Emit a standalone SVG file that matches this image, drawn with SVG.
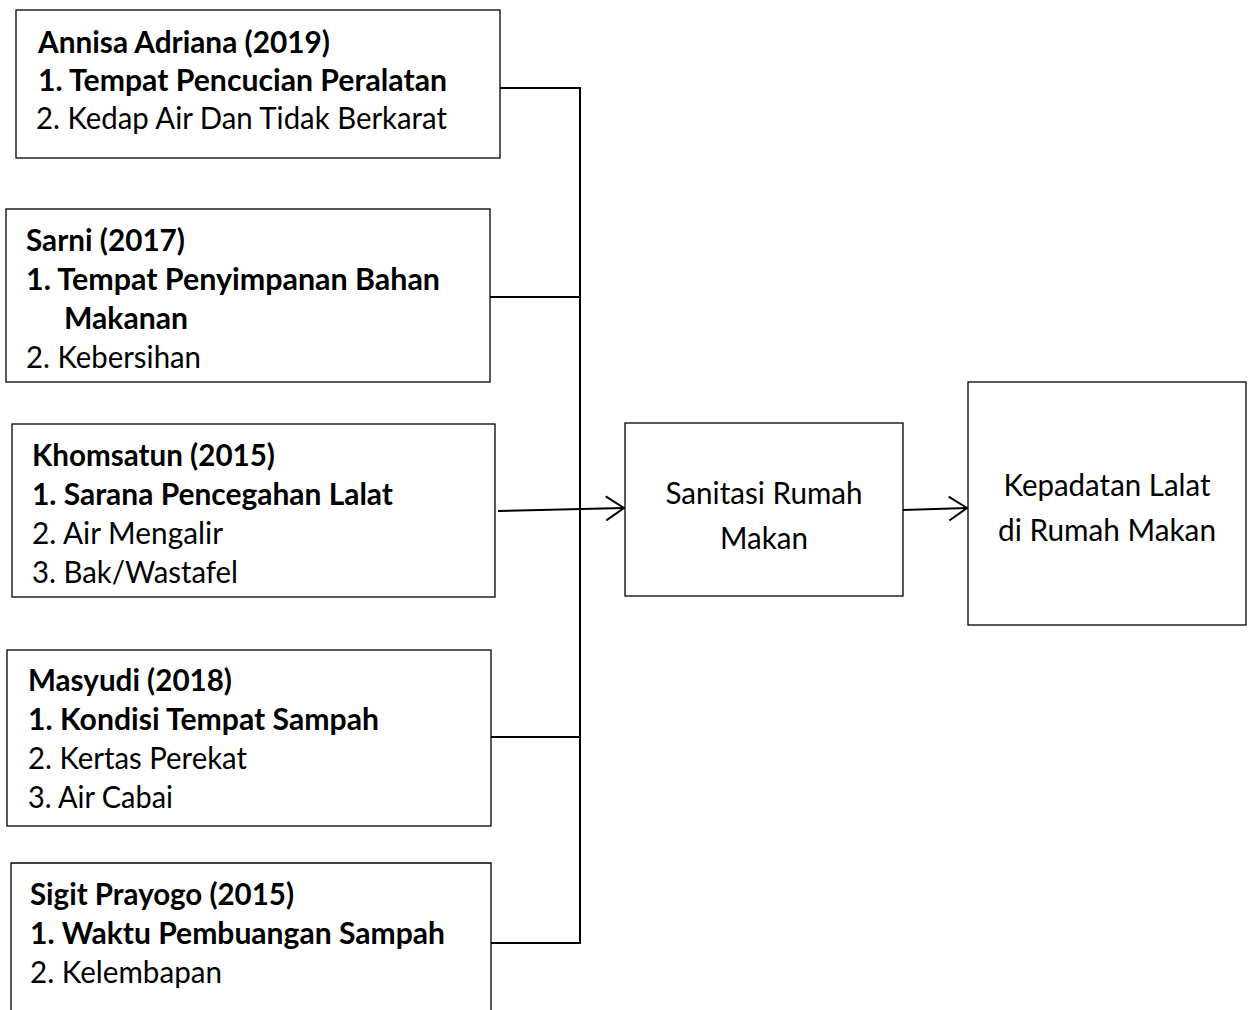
<svg xmlns="http://www.w3.org/2000/svg" width="1253" height="1010" viewBox="0 0 1253 1010">
<style>
.box{fill:#fff;stroke:#000;stroke-width:1.3}
.t{font-family:Lato,"Liberation Sans",sans-serif;font-size:31px;fill:#000}
.b{font-weight:bold}
.c{text-anchor:middle}
.ln{stroke:#000;stroke-width:2;fill:none}
</style>
<defs>
<marker id="arr" markerWidth="22" markerHeight="26" refX="19" refY="13" orient="auto" markerUnits="userSpaceOnUse">
<path d="M1,1 L19,13 L1,25" fill="none" stroke="#000" stroke-width="2"/>
</marker>
</defs>
<rect width="1253" height="1010" fill="#fff"/>
<g id="connectors">
<line class="ln" x1="580" y1="88" x2="580" y2="943"/>
<line class="ln" x1="500" y1="88" x2="581" y2="88"/>
<line class="ln" x1="490" y1="297" x2="580" y2="297"/>
<line class="ln" x1="491" y1="737" x2="580" y2="737"/>
<line class="ln" x1="491" y1="943" x2="581" y2="943"/>
<line class="ln" x1="498" y1="511" x2="624" y2="508" marker-end="url(#arr)"/>
<line class="ln" x1="903" y1="510" x2="967" y2="508" marker-end="url(#arr)"/>
</g>
<g id="node-annisa">
<rect class="box" x="16" y="10" width="484" height="148"/>
<text class="t b" x="38" y="53" textLength="292" lengthAdjust="spacingAndGlyphs">Annisa Adriana (2019)</text>
<text class="t b" x="38" y="91" textLength="409" lengthAdjust="spacingAndGlyphs">1. Tempat Pencucian Peralatan</text>
<text class="t" x="36" y="129" textLength="411" lengthAdjust="spacingAndGlyphs">2. Kedap Air Dan Tidak Berkarat</text>
</g>
<g id="node-sarni">
<rect class="box" x="6" y="209" width="484" height="173"/>
<text class="t b" x="26" y="251" textLength="159" lengthAdjust="spacingAndGlyphs">Sarni (2017)</text>
<text class="t b" x="26" y="290" textLength="414" lengthAdjust="spacingAndGlyphs">1. Tempat Penyimpanan Bahan</text>
<text class="t b" x="64" y="329" textLength="124" lengthAdjust="spacingAndGlyphs">Makanan</text>
<text class="t" x="26" y="368" textLength="175" lengthAdjust="spacingAndGlyphs">2. Kebersihan</text>
</g>
<g id="node-khomsatun">
<rect class="box" x="12" y="424" width="483" height="173"/>
<text class="t b" x="32" y="466" textLength="243" lengthAdjust="spacingAndGlyphs">Khomsatun (2015)</text>
<text class="t b" x="32" y="505" textLength="361" lengthAdjust="spacingAndGlyphs">1. Sarana Pencegahan Lalat</text>
<text class="t" x="32" y="544" textLength="191" lengthAdjust="spacingAndGlyphs">2. Air Mengalir</text>
<text class="t" x="32" y="583" textLength="206" lengthAdjust="spacingAndGlyphs">3. Bak/Wastafel</text>
</g>
<g id="node-masyudi">
<rect class="box" x="7" y="650" width="484" height="176"/>
<text class="t b" x="28" y="691" textLength="204" lengthAdjust="spacingAndGlyphs">Masyudi (2018)</text>
<text class="t b" x="28" y="730" textLength="351" lengthAdjust="spacingAndGlyphs">1. Kondisi Tempat Sampah</text>
<text class="t" x="28" y="769" textLength="219" lengthAdjust="spacingAndGlyphs">2. Kertas Perekat</text>
<text class="t" x="28" y="808" textLength="145" lengthAdjust="spacingAndGlyphs">3. Air Cabai</text>
</g>
<g id="node-sigit">
<path class="box" d="M11,1012 L11,863 L491,863 L491,1012"/>
<text class="t b" x="30" y="905" textLength="264" lengthAdjust="spacingAndGlyphs">Sigit Prayogo (2015)</text>
<text class="t b" x="30" y="944" textLength="415" lengthAdjust="spacingAndGlyphs">1. Waktu Pembuangan Sampah</text>
<text class="t" x="30" y="983" textLength="192" lengthAdjust="spacingAndGlyphs">2. Kelembapan</text>
</g>
<g id="node-sanitasi">
<rect class="box" x="625" y="423" width="278" height="173"/>
<text class="t c" x="764" y="504" textLength="197" lengthAdjust="spacingAndGlyphs">Sanitasi Rumah</text>
<text class="t c" x="764" y="549" textLength="88" lengthAdjust="spacingAndGlyphs">Makan</text>
</g>
<g id="node-kepadatan">
<rect class="box" x="968" y="382" width="278" height="243"/>
<text class="t c" x="1107" y="496" textLength="207" lengthAdjust="spacingAndGlyphs">Kepadatan Lalat</text>
<text class="t c" x="1107" y="541" textLength="218" lengthAdjust="spacingAndGlyphs">di Rumah Makan</text>
</g>
</svg>
